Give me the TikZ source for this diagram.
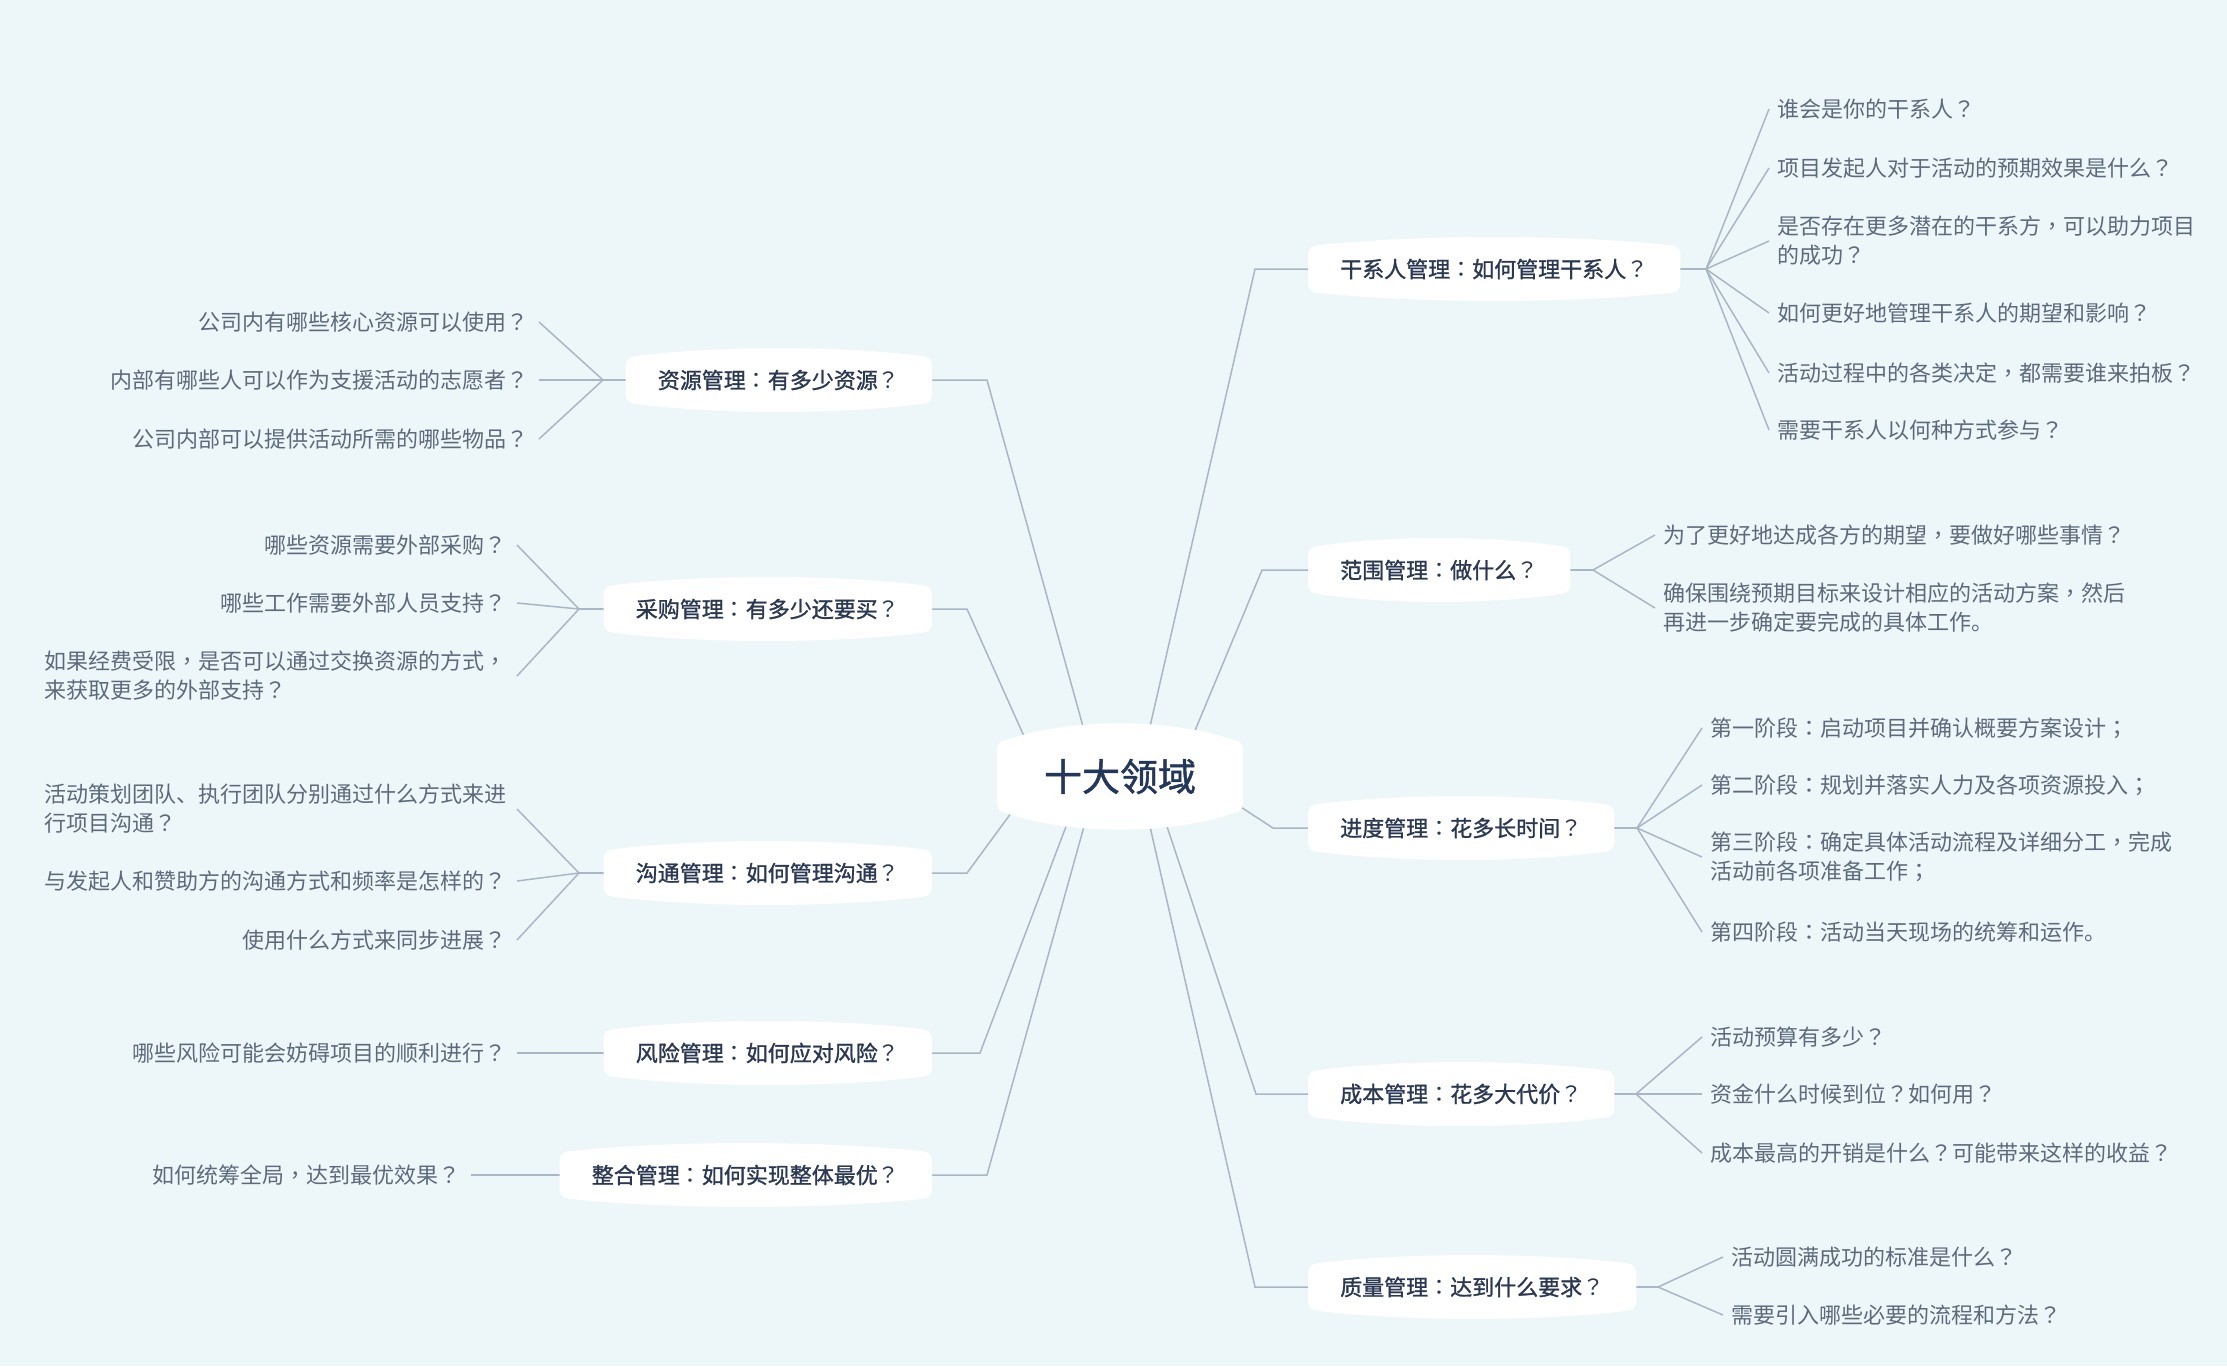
\documentclass[tikz,border=0pt]{standalone}
\usepackage{fontspec}
\usetikzlibrary{calc}
\newfontfamily\cjk{Noto Sans CJK SC}
\newfontfamily\cjkb{Noto Sans CJK SC}[FakeBold=1.2]
\newfontfamily\cjkpunct{Noto Sans CJK TC}
% centred full-width punctuation, as in the reference
\newXeTeXintercharclass\PunctClass
\XeTeXcharclass`？=\PunctClass
\XeTeXcharclass`：=\PunctClass
\XeTeXcharclass`，=\PunctClass
\XeTeXcharclass`；=\PunctClass
\def\punctwrap#1{{\XeTeXinterchartokenstate=0 \cjkpunct#1}}
\XeTeXinterchartoks 0 \PunctClass = {\punctwrap}
\XeTeXinterchartoks 1 \PunctClass = {\punctwrap}
\XeTeXinterchartoks 2 \PunctClass = {\punctwrap}
\XeTeXinterchartoks 3 \PunctClass = {\punctwrap}
\XeTeXinterchartoks 4095 \PunctClass = {\punctwrap}
\XeTeXinterchartokenstate=1
\definecolor{bgc}{HTML}{EDF7F9}
\definecolor{linec}{HTML}{A9B6C6}
\definecolor{leafc}{HTML}{5E697C}
\definecolor{branchc}{HTML}{2B3852}
\definecolor{centerc}{HTML}{22375A}
\newcommand{\leaffont}{\cjk\fontsize{22}{29}\selectfont}
\newcommand{\branchfont}{\cjkb\fontsize{22}{28}\selectfont}
\newcommand{\centerfont}{\cjkb\fontsize{38}{44}\selectfont}
\pgfdeclarelayer{bg}
\pgfdeclarelayer{lines}
\pgfdeclarelayer{blobs}
\pgfsetlayers{bg,lines,blobs,main}
\newcommand{\blobshape}[3]{%
\begin{pgfonlayer}{blobs}
\fill[white] let \p1=(#1.north west), \p2=(#1.south east), \n1={#2}, \n2={#3}, \n3={\x2-\x1} in
 (\x1,\y1-\n1) .. controls (\x1,\y1-0.45*\n1) and (\x1+0.45*\n1,\y1) .. (\x1+\n1,\y1)
 .. controls (\x1+0.3*\n3,\y1+\n2) and (\x2-0.3*\n3,\y1+\n2) .. (\x2-\n1,\y1)
 .. controls (\x2-0.45*\n1,\y1) and (\x2,\y1-0.45*\n1) .. (\x2,\y1-\n1)
 -- (\x2,\y2+\n1)
 .. controls (\x2,\y2+0.45*\n1) and (\x2-0.45*\n1,\y2) .. (\x2-\n1,\y2)
 .. controls (\x2-0.3*\n3,\y2-\n2) and (\x1+0.3*\n3,\y2-\n2) .. (\x1+\n1,\y2)
 .. controls (\x1+0.45*\n1,\y2) and (\x1,\y2+0.45*\n1) .. (\x1,\y2+\n1) -- cycle;
\end{pgfonlayer}}
\tikzset{
  conn/.style={draw=linec, line width=1.5pt},
  branchR/.style={anchor=west, inner xsep=32pt, inner ysep=0pt, minimum height=47pt, text=branchc, font=\branchfont},
  branchL/.style={anchor=east, inner xsep=32pt, inner ysep=0pt, minimum height=47pt, text=branchc, font=\branchfont},
  leafR/.style={anchor=west, inner xsep=8pt, inner ysep=0pt, align=left, text=leafc, font=\leaffont},
  leafL/.style={anchor=east, inner xsep=10pt, inner ysep=0pt, align=left, text=leafc, font=\leaffont},
  centre/.style={minimum width=246pt, minimum height=73pt, inner sep=0pt, text=centerc, font=\centerfont}
}
\begin{document}
\begin{tikzpicture}[x=1pt,y=-1pt]
\useasboundingbox (0,0) rectangle (2227,1366);
\begin{pgfonlayer}{bg}
\fill[bgc] (0,0) rectangle (2227,1366);
\end{pgfonlayer}

% centre
\node[centre] (c) at (1120,776.5) {十大领域};
\blobshape{c}{10}{22}

% right branches
\node[branchR] (b1) at (1308,269) {干系人管理：如何管理干系人？};
\node[branchR] (b2) at (1308,570) {范围管理：做什么？};
\node[branchR] (b3) at (1308,828) {进度管理：花多长时间？};
\node[branchR] (b4) at (1308,1094) {成本管理：花多大代价？};
\node[branchR] (b5) at (1308,1287) {质量管理：达到什么要求？};
% left branches
\node[branchL] (b6) at (932,380) {资源管理：有多少资源？};
\node[branchL] (b7) at (932,609) {采购管理：有多少还要买？};
\node[branchL] (b8) at (932,873) {沟通管理：如何管理沟通？};
\node[branchL] (b9) at (932,1053) {风险管理：如何应对风险？};
\node[branchL] (b10) at (932,1175) {整合管理：如何实现整体最优？};
\foreach \b in {b1,b2,b3,b4,b5,b6,b7,b8,b9,b10} {\blobshape{\b}{9}{11}}

% elbows
\coordinate (e1) at (1255,269);
\coordinate (e2) at (1262,570);
\coordinate (e3) at (1273,828);
\coordinate (e4) at (1256,1094);
\coordinate (e5) at (1255,1287);
\coordinate (e6) at (987,380);
\coordinate (e7) at (967,609);
\coordinate (e8) at (967,873);
\coordinate (e9) at (980,1053);
\coordinate (e10) at (987,1175);

% forks
\coordinate (f1) at (1706,269);
\coordinate (f2) at (1593,570);
\coordinate (f3) at (1637,828);
\coordinate (f4) at (1636,1094);
\coordinate (f5) at (1658,1287);
\coordinate (f6) at (603,380);
\coordinate (f7) at (579,609);
\coordinate (f8) at (579,873);

% leaves
\node[leafR] (l1a) at (1769,109) {谁会是你的干系人？};
\node[leafR] (l1b) at (1769,168) {项目发起人对于活动的预期效果是什么？};
\node[leafR] (l1c) at (1769,241) {是否存在更多潜在的干系方，可以助力项目\\的成功？};
\node[leafR] (l1d) at (1769,313) {如何更好地管理干系人的期望和影响？};
\node[leafR] (l1e) at (1769,373) {活动过程中的各类决定，都需要谁来拍板？};
\node[leafR] (l1f) at (1769,430) {需要干系人以何种方式参与？};

\node[leafR] (l2a) at (1655,535) {为了更好地达成各方的期望，要做好哪些事情？};
\node[leafR] (l2b) at (1655,608) {确保围绕预期目标来设计相应的活动方案，然后\\再进一步确定要完成的具体工作。};

\node[leafR] (l3a) at (1702,728) {第一阶段：启动项目并确认概要方案设计；};
\node[leafR] (l3b) at (1702,785) {第二阶段：规划并落实人力及各项资源投入；};
\node[leafR] (l3c) at (1702,857) {第三阶段：确定具体活动流程及详细分工，完成\\活动前各项准备工作；};
\node[leafR] (l3d) at (1702,932) {第四阶段：活动当天现场的统筹和运作。};

\node[leafR] (l4a) at (1702,1037) {活动预算有多少？};
\node[leafR] (l4b) at (1702,1094) {资金什么时候到位？如何用？};
\node[leafR] (l4c) at (1702,1153) {成本最高的开销是什么？可能带来这样的收益？};

\node[leafR] (l5a) at (1723,1257) {活动圆满成功的标准是什么？};
\node[leafR] (l5b) at (1723,1315) {需要引入哪些必要的流程和方法？};

\node[leafL] (l6a) at (539,322) {公司内有哪些核心资源可以使用？};
\node[leafL] (l6b) at (539,380) {内部有哪些人可以作为支援活动的志愿者？};
\node[leafL] (l6c) at (539,439) {公司内部可以提供活动所需的哪些物品？};

\node[leafL] (l7a) at (517,545) {哪些资源需要外部采购？};
\node[leafL] (l7b) at (517,603) {哪些工作需要外部人员支持？};
\node[leafL] (l7c) at (517,676) {如果经费受限，是否可以通过交换资源的方式，\\来获取更多的外部支持？};

\node[leafL] (l8a) at (517,809) {活动策划团队、执行团队分别通过什么方式来进\\行项目沟通？};
\node[leafL] (l8b) at (517,881) {与发起人和赞助方的沟通方式和频率是怎样的？};
\node[leafL] (l8c) at (517,940) {使用什么方式来同步进展？};

\node[leafL] (l9a) at (517,1053) {哪些风险可能会妨碍项目的顺利进行？};
\node[leafL] (l10a) at (471,1175) {如何统筹全局，达到最优效果？};

\begin{pgfonlayer}{lines}
% centre to branches
\draw[conn] ([shift={(30,-50)}]c.center) -- (e1) -- (b1.west);
\draw[conn] ([shift={(75,-46)}]c.center) -- (e2) -- (b2.west);
\draw[conn] ([shift={(120,30)}]c.center) -- (e3) -- (b3.west);
\draw[conn] ([shift={(47,50)}]c.center) -- (e4) -- (b4.west);
\draw[conn] ([shift={(30,50)}]c.center) -- (e5) -- (b5.west);
\draw[conn] ([shift={(-37,-50)}]c.center) -- (e6) -- (b6.east);
\draw[conn] ([shift={(-95,-38)}]c.center) -- (e7) -- (b7.east);
\draw[conn] ([shift={(-110,38)}]c.center) -- (e8) -- (b8.east);
\draw[conn] ([shift={(-54,50)}]c.center) -- (e9) -- (b9.east);
\draw[conn] ([shift={(-36,50)}]c.center) -- (e10) -- (b10.east);
% branches to forks
\draw[conn] (b1.east) -- (f1);
\draw[conn] (b2.east) -- (f2);
\draw[conn] (b3.east) -- (f3);
\draw[conn] (b4.east) -- (f4);
\draw[conn] (b5.east) -- (f5);
\draw[conn] (b6.west) -- (f6);
\draw[conn] (b7.west) -- (f7);
\draw[conn] (b8.west) -- (f8);
% forks to leaves
\foreach \l in {l1a,l1b,l1c,l1d,l1e,l1f} {\draw[conn] (f1) -- (\l.west);}
\foreach \l in {l2a,l2b} {\draw[conn] (f2) -- (\l.west);}
\foreach \l in {l3a,l3b,l3c,l3d} {\draw[conn] (f3) -- (\l.west);}
\foreach \l in {l4a,l4b,l4c} {\draw[conn] (f4) -- (\l.west);}
\foreach \l in {l5a,l5b} {\draw[conn] (f5) -- (\l.west);}
\foreach \l in {l6a,l6b,l6c} {\draw[conn] (f6) -- (\l.east);}
\foreach \l in {l7a,l7b,l7c} {\draw[conn] (f7) -- (\l.east);}
\foreach \l in {l8a,l8b,l8c} {\draw[conn] (f8) -- (\l.east);}
\draw[conn] (b9.west) -- (l9a.east);
\draw[conn] (b10.west) -- (l10a.east);
\end{pgfonlayer}
\end{tikzpicture}
\end{document}
